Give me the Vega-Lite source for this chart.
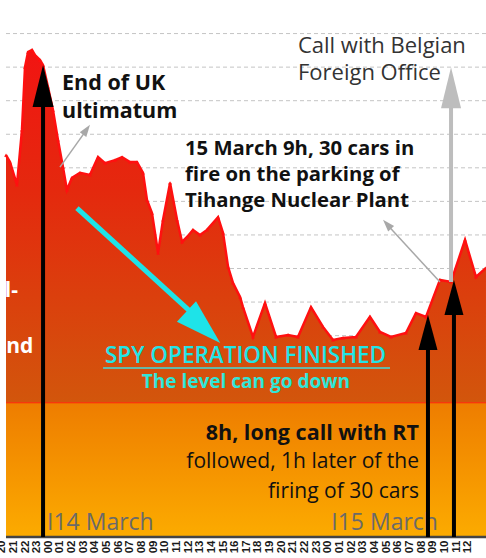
{
  "$schema": "https://vega.github.io/schema/vega-lite/v6.json",
  "width": 486,
  "height": 537,
  "autosize": {"type": "none"},
  "padding": {"left": 0, "top": 0, "right": 0, "bottom": 21},
  "background": "white",
  "config": {"view": {"stroke": null}},
  "datasets": {
    "level": [
      {"hour": 20.37, "level": 11.38}, {"hour": 20.71, "level": 11.17}, {"hour": 21.31, "level": 10.49},
      {"hour": 21.74, "level": 12.13}, {"hour": 22.0, "level": 14.0}, {"hour": 22.26, "level": 14.45},
      {"hour": 22.6, "level": 14.51}, {"hour": 22.86, "level": 14.36}, {"hour": 23.29, "level": 14.21},
      {"hour": 23.55, "level": 14.06}, {"hour": 23.97, "level": 13.41}, {"hour": 24.4, "level": 12.72},
      {"hour": 24.83, "level": 11.83}, {"hour": 25.26, "level": 11.02}, {"hour": 25.6, "level": 10.34},
      {"hour": 26.03, "level": 10.7}, {"hour": 26.72, "level": 10.85}, {"hour": 27.58, "level": 10.79},
      {"hour": 28.27, "level": 11.32}, {"hour": 28.87, "level": 11.14}, {"hour": 29.72, "level": 11.23},
      {"hour": 30.33, "level": 11.32}, {"hour": 31.01, "level": 11.17}, {"hour": 31.61, "level": 11.17},
      {"hour": 32.13, "level": 10.85}, {"hour": 32.47, "level": 10.04}, {"hour": 32.9, "level": 9.65},
      {"hour": 33.42, "level": 8.46}, {"hour": 33.85, "level": 9.45}, {"hour": 34.45, "level": 10.55},
      {"hour": 35.05, "level": 9.45}, {"hour": 35.48, "level": 8.79}, {"hour": 35.91, "level": 8.94},
      {"hour": 36.42, "level": 9.15}, {"hour": 37.02, "level": 9.0}, {"hour": 37.62, "level": 9.15},
      {"hour": 38.57, "level": 9.53}, {"hour": 39.0, "level": 9.06}, {"hour": 39.43, "level": 8.05},
      {"hour": 39.85, "level": 7.57}, {"hour": 40.46, "level": 7.15}, {"hour": 40.71, "level": 6.85},
      {"hour": 41.57, "level": 5.96}, {"hour": 42.6, "level": 6.97}, {"hour": 43.55, "level": 5.96},
      {"hour": 44.58, "level": 6.02}, {"hour": 45.43, "level": 5.96}, {"hour": 46.55, "level": 6.85},
      {"hour": 47.58, "level": 6.26}, {"hour": 48.44, "level": 5.87}, {"hour": 49.3, "level": 5.93},
      {"hour": 50.41, "level": 5.96}, {"hour": 51.61, "level": 6.56}, {"hour": 52.47, "level": 6.11},
      {"hour": 53.42, "level": 5.96}, {"hour": 54.7, "level": 6.08}, {"hour": 55.56, "level": 6.67},
      {"hour": 56.42, "level": 6.56}, {"hour": 57.62, "level": 7.66}, {"hour": 58.57, "level": 7.6},
      {"hour": 59.77, "level": 8.85}, {"hour": 60.71, "level": 7.75}, {"hour": 61.57, "level": 8.02}
    ],
    "grid": [
      {"level": 5, "hour": 20.37, "hour2": 61.571}, {"level": 6, "hour": 20.37, "hour2": 61.571},
      {"level": 7, "hour": 20.37, "hour2": 61.571}, {"level": 8, "hour": 20.37, "hour2": 61.571},
      {"level": 9, "hour": 20.37, "hour2": 61.571}, {"level": 10, "hour": 20.37, "hour2": 61.571},
      {"level": 11, "hour": 20.37, "hour2": 61.571}, {"level": 12, "hour": 20.37, "hour2": 61.571},
      {"level": 13, "hour": 20.37, "hour2": 61.571}, {"level": 14, "hour": 20.37, "hour2": 61.571},
      {"level": 15, "hour": 20.37, "hour2": 61.571}
    ]
  },
  "encoding": {
    "x": {
      "field": "hour", "type": "quantitative",
      "scale": {"domain": [19.854, 61.571], "nice": false, "zero": false},
      "axis": {
        "values": [20,21,22,23,24,25,26,27,28,29,30,31,32,33,34,35,36,37,38,39,40,41,42,43,44,45,46,47,48,49,50,51,52,53,54,55,56,57,58,59,60],
        "labelExpr": "(datum.value % 24 < 10 ? '0' : '') + (datum.value % 24)",
        "labelAngle": -90, "labelFontSize": 11.5, "labelFontWeight": "bold", "labelFont": "Liberation Sans", "labelColor": "#1a1a1a",
        "labelPadding": 3, "labelFlush": false, "labelBound": false, "labelOverlap": false,
        "ticks": false, "domain": false, "grid": false, "title": null
      }
    },
    "y": {
      "field": "level", "type": "quantitative",
      "scale": {"domain": [0, 16], "nice": false, "zero": false},
      "axis": null
    }
  },
  "layer": [
    {
      "data": {"name": "grid"},
      "mark": {"type": "rule", "color": "#c4c4c4", "strokeWidth": 1, "strokeDash": [4, 3]},
      "encoding": {"x2": {"field": "hour2"}}
    },
    {
      "data": {"values": [{"hour": 20.37, "hour2": 61.571, "level": 0, "level2": 4}]},
      "mark": {"type": "rect", "color": {"gradient": "linear", "x1": 0, "y1": 0, "x2": 0, "y2": 1, "stops": [{"offset": 0, "color": "#ee7d00"}, {"offset": 1, "color": "#fcab00"}]}},
      "encoding": {"x2": {"field": "hour2"}, "y2": {"field": "level2"}}
    },
    {
      "data": {"name": "level"},
      "mark": {"type": "area", "color": {"gradient": "linear", "x1": 0, "y1": 0, "x2": 0, "y2": 1, "stops": [{"offset": 0, "color": "#f21412"}, {"offset": 0.4, "color": "#e4290e"}, {"offset": 1, "color": "#d2560c"}]}},
      "encoding": {"y2": {"datum": 4}}
    },
    {
      "data": {"name": "level"},
      "mark": {"type": "line", "color": "#ff1010", "strokeWidth": 2.5, "point": {"filled": true, "size": 14, "shape": "triangle-up", "color": "#ff1010", "opacity": 1}}
    },
    {
      "data": {"values": [{"level": 4, "hour": 20.37, "hour2": 61.571}]},
      "mark": {"type": "rule", "color": "#ff2200", "strokeWidth": 1},
      "encoding": {"x2": {"field": "hour2"}}
    },
    {
      "data": {"values": [{"level": 0, "hour": 20.37, "hour2": 61.571}]},
      "mark": {"type": "rule", "color": "#444444", "strokeWidth": 2.5},
      "encoding": {"x2": {"field": "hour2"}}
    },
    {
      "data": {"values": [{"hour": 22.71, "level": 5.48, "note": "and"}, {"hour": 21.4, "level": 7.15, "note": "l-"}]},
      "mark": {"type": "text", "align": "right", "baseline": "alphabetic", "font": "Open Sans", "fontWeight": "bold", "fontSize": 21, "color": "#ffffff"},
      "encoding": {"text": {"field": "note"}}
    },
    {
      "data": {"values": [{"hour": 25.18, "level": 13.32, "note": "End of UK\nultimatum"}]},
      "mark": {"type": "text", "align": "left", "baseline": "alphabetic", "font": "Open Sans", "fontWeight": "bold", "fontSize": 21.5, "lineHeight": 28, "lineBreak": "\n", "color": "#111111"},
      "encoding": {"text": {"field": "note"}}
    },
    {
      "data": {"values": [{"hour": 35.73, "level": 11.38, "note": "15 March 9h, 30 cars in\nfire on the parking of\nTihange Nuclear Plant"}]},
      "mark": {"type": "text", "align": "left", "baseline": "alphabetic", "font": "Open Sans", "fontWeight": "bold", "fontSize": 20.3, "lineHeight": 26, "lineBreak": "\n", "color": "#111111"},
      "encoding": {"text": {"field": "note"}}
    },
    {
      "data": {"values": [{"hour": 45.43, "level": 14.42, "note": "Call with Belgian\nForeign Office"}]},
      "mark": {"type": "text", "align": "left", "baseline": "alphabetic", "font": "Open Sans", "fontSize": 22, "lineHeight": 27, "lineBreak": "\n", "color": "#333333"},
      "encoding": {"text": {"field": "note"}}
    },
    {
      "data": {"values": [{"hour": 40.93, "level": 5.18, "note": "SPY OPERATION FINISHED"}]},
      "mark": {"type": "text", "align": "center", "baseline": "alphabetic", "font": "Open Sans", "fontWeight": 600, "fontSize": 22.5, "color": "#22e4e6"},
      "encoding": {"text": {"field": "note"}}
    },
    {
      "data": {"values": [{"hour": 28.7, "hour2": 53.33, "level": 5.035}]},
      "mark": {"type": "rule", "color": "#66b8a8", "strokeWidth": 2},
      "encoding": {"x2": {"field": "hour2"}}
    },
    {
      "data": {"values": [{"hour": 40.96, "level": 4.44, "note": "The level can go down"}]},
      "mark": {"type": "text", "align": "center", "baseline": "alphabetic", "font": "Open Sans", "fontWeight": "bold", "fontSize": 19, "color": "#30e6d8"},
      "encoding": {"text": {"field": "note"}}
    },
    {
      "data": {"values": [{"hour": 55.82, "level": 2.89, "note": "8h, long call with RT"}]},
      "mark": {"type": "text", "align": "right", "baseline": "alphabetic", "font": "Open Sans", "fontWeight": "bold", "fontSize": 21.5, "color": "#111111"},
      "encoding": {"text": {"field": "note"}}
    },
    {
      "data": {"values": [{"hour": 55.82, "level": 2.06, "note": "followed, 1h later of the\nfiring of 30 cars"}]},
      "mark": {"type": "text", "align": "right", "baseline": "alphabetic", "font": "Open Sans", "fontSize": 21, "lineHeight": 30, "lineBreak": "\n", "color": "#111111"},
      "encoding": {"text": {"field": "note"}}
    },
    {
      "data": {"values": [{"hour": 23.89, "level": 0.21, "note": "I14  March"}, {"hour": 48.29, "level": 0.21, "note": "I15 March"}]},
      "mark": {"type": "text", "align": "left", "baseline": "alphabetic", "font": "Open Sans", "fontSize": 23, "color": "#6a6a6a"},
      "encoding": {"text": {"field": "note"}}
    },
    {
      "data": {"values": [{"hour": 26.46, "hour2": 37.54, "level": 9.8, "level2": 6.29}]},
      "mark": {"type": "rule", "color": "#1ee3e8", "strokeWidth": 5},
      "encoding": {"x2": {"field": "hour2"}, "y2": {"field": "level2"}}
    },
    {
      "data": {"values": [{"hour": 38.76, "level": 5.78}]},
      "mark": {"type": "point", "shape": "M0,0L1,3.3L-1,3.3Z", "size": 784, "angle": 133, "filled": true, "opacity": 1, "color": "#1ee3e8", "strokeWidth": 0}
    },
    {
      "data": {"values": [{"hour": 25.0, "hour2": 27.28, "level": 11.02, "level2": 12.13}, {"hour": 57.62, "hour2": 53.02, "level": 7.6, "level2": 9.33}]},
      "mark": {"type": "rule", "color": "#a8a8a8", "strokeWidth": 1.5},
      "encoding": {"x2": {"field": "hour2"}, "y2": {"field": "level2"}}
    },
    {
      "data": {"values": [{"hour": 27.58, "level": 12.28}]},
      "mark": {"type": "point", "shape": "M0,0L1,3L-1,3Z", "size": 64, "angle": 35.5, "filled": true, "opacity": 1, "color": "#a8a8a8", "strokeWidth": 0}
    },
    {
      "data": {"values": [{"hour": 52.73, "level": 9.45}]},
      "mark": {"type": "point", "shape": "M0,0L1,3L-1,3Z", "size": 64, "angle": -42.6, "filled": true, "opacity": 1, "color": "#a8a8a8", "strokeWidth": 0}
    },
    {
      "data": {"values": [{"hour": 58.57, "level": 7.6, "level2": 13.38}]},
      "mark": {"type": "rule", "color": "#bdbdbd", "strokeWidth": 4},
      "encoding": {"y2": {"field": "level2"}}
    },
    {
      "data": {"values": [{"hour": 58.57, "level": 14.0}]},
      "mark": {"type": "point", "shape": "M0,0L1,4.1L-1,4.1Z", "size": 400, "filled": true, "opacity": 1, "color": "#bdbdbd", "strokeWidth": 0}
    },
    {
      "data": {"values": [{"hour": 23.55, "level": 0, "level2": 13.3}, {"hour": 56.59, "level": 0, "level2": 6.1}, {"hour": 58.82, "level": 0, "level2": 7.15}]},
      "mark": {"type": "rule", "color": "#000000", "strokeWidth": 4},
      "encoding": {"y2": {"field": "level2"}}
    },
    {
      "data": {"values": [{"hour": 23.55, "level": 14.06}]},
      "mark": {"type": "point", "shape": "M0,0L1,4L-1,4Z", "size": 441, "filled": true, "opacity": 1, "color": "#000000", "strokeWidth": 0}
    },
    {
      "data": {"values": [{"hour": 56.59, "level": 6.62}, {"hour": 58.82, "level": 7.66}]},
      "mark": {"type": "point", "shape": "M0,0L1,3.7L-1,3.7Z", "size": 361, "filled": true, "opacity": 1, "color": "#000000", "strokeWidth": 0}
    }
  ]
}
